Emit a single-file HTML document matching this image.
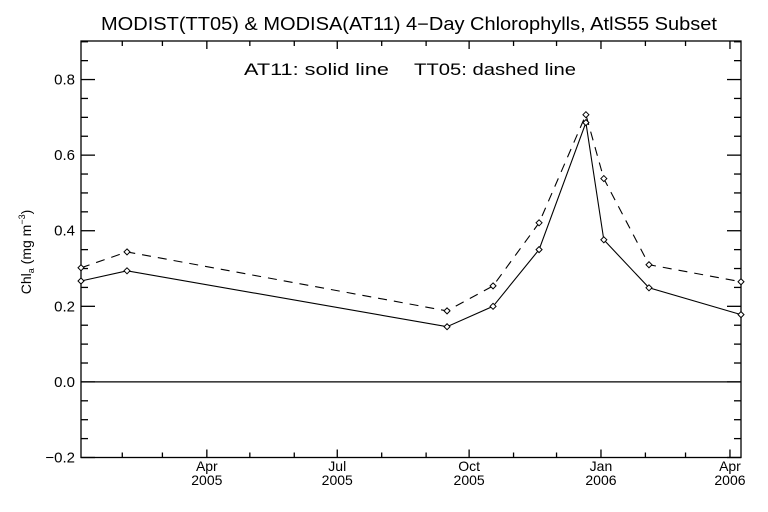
<!DOCTYPE html>
<html><head><meta charset="utf-8"><style>
html,body{margin:0;padding:0;background:#fff;}
svg{display:block;font-family:"Liberation Sans",sans-serif;}
</style></head><body>
<svg id="chart" width="768" height="512" viewBox="0 0 768 512">
<rect x="0" y="0" width="768" height="512" fill="#fff"/>
<text x="409" y="30" font-size="18" text-anchor="middle" textLength="616" lengthAdjust="spacingAndGlyphs">MODIST(TT05) &amp; MODISA(AT11) 4−Day Chlorophylls, AtlS55 Subset</text>
<text x="244" y="75" font-size="17" textLength="145" lengthAdjust="spacingAndGlyphs">AT11: solid line</text>
<text x="414" y="75" font-size="17" textLength="162" lengthAdjust="spacingAndGlyphs">TT05: dashed line</text>
<text transform="translate(31,252) rotate(-90)" font-size="14" text-anchor="middle">Chl<tspan font-size="9" dy="3">a</tspan><tspan dy="-3"> (mg m</tspan><tspan font-size="9" dy="-6">−3</tspan><tspan dy="6">)</tspan></text>
<g id="axes"></g>
<g id="series"></g>
</svg>
<script>
const dayValues = [2.2, 34.3, 257.6, 289.7, 321.8, 354.5, 367, 398.5, 462.7];
const at11Values = [0.267, 0.294, 0.146, 0.200, 0.350, 0.686, 0.376, 0.249, 0.178];
const tt05Values = [0.302, 0.344, 0.188, 0.254, 0.421, 0.707, 0.538, 0.310, 0.265];
const yTickValues = [-0.2, 0.0, 0.2, 0.4, 0.6, 0.8];
const yTickLabels = ["−0.2", "0.0", "0.2", "0.4", "0.6", "0.8"];
const xMajorDays = [90, 181, 273, 365, 455];
const xMonthLabels = ["Apr", "Jul", "Oct", "Jan", "Apr"];
const xYearLabels = ["2005", "2005", "2005", "2006", "2006"];
const xMinorDays = [31, 59, 120, 151, 212, 243, 304, 334, 396, 424];

const L = 81, R = 741, T = 41, B = 457.5;
const xMin = 2.2, xMax = 462.7, yMin = -0.2, yMax = 0.902;
const sx = d => L + (d - xMin) / (xMax - xMin) * (R - L);
const sy = v => B - (v - yMin) / (yMax - yMin) * (B - T);
const NS = "http://www.w3.org/2000/svg";
const axes = document.getElementById('axes');
const series = document.getElementById('series');
function mk(tag, attrs, parent) {
  const e = document.createElementNS(NS, tag);
  for (const k in attrs) e.setAttribute(k, attrs[k]);
  parent.appendChild(e);
  return e;
}
let el = mk('rect', {x: L, y: T, width: R - L, height: B - T, fill: 'none', stroke: '#000', 'stroke-width': 1.3}, axes);


el = mk('line', {x1: L, x2: R, y1: sy(0), y2: sy(0), stroke: '#000', 'stroke-width': 1.3}, axes);


// y ticks
for (let v = -0.2; v <= 0.9001; v += 0.05) {
  const major = Math.abs(Math.round(v * 10) / 10 - v) < 1e-6 && Math.round(v * 10) % 2 === 0;
  const len = major ? 14 : 7;
  const y = sy(v);
  el = mk('line', {x1: L, x2: L + len, y1: y, y2: y, stroke: '#000', 'stroke-width': 1.3}, axes);
  
  
  el = mk('line', {x1: R, x2: R - len, y1: y, y2: y, stroke: '#000', 'stroke-width': 1.3}, axes);
  
  
}
yTickValues.forEach((v, i) => {
  const t = mk('text', {x: 75, y: sy(v) + 5, 'font-size': 15, 'text-anchor': 'end'}, axes);
  
  
  t.textContent = yTickLabels[i];
});
// x ticks
xMajorDays.forEach((d, i) => {
  const x = sx(d);
  el = mk('line', {x1: x, x2: x, y1: B, y2: B - 8, stroke: '#000', 'stroke-width': 1.3}, axes);
  
  
  el = mk('line', {x1: x, x2: x, y1: T, y2: T + 8, stroke: '#000', 'stroke-width': 1.3}, axes);
  
  
  let t = mk('text', {x: x, y: 471, 'font-size': 14, 'text-anchor': 'middle'}, axes);
  
  
  t.textContent = xMonthLabels[i];
  t = mk('text', {x: x, y: 485, 'font-size': 14, 'text-anchor': 'middle'}, axes);
  
  
  t.textContent = xYearLabels[i];
});
xMinorDays.forEach(d => {
  const x = sx(d);
  el = mk('line', {x1: x, x2: x, y1: B, y2: B - 5, stroke: '#000', 'stroke-width': 1.3}, axes);
  
  
  el = mk('line', {x1: x, x2: x, y1: T, y2: T + 5, stroke: '#000', 'stroke-width': 1.3}, axes);
  
  
});
function drawSeries(vals, name, dash) {
  const pts = dayValues.map((d, i) => sx(d).toFixed(1) + ',' + sy(vals[i]).toFixed(1)).join(' ');
  const pl = mk('polyline', {points: pts, fill: 'none', stroke: '#000', 'stroke-width': 1.1}, series);
  if (dash) pl.setAttribute('stroke-dasharray', '9,7');
  
  
  dayValues.forEach((d, i) => {
    const x = sx(d), y = sy(vals[i]);
    const m = mk('polygon', {points: `${x},${y-3} ${x+3},${y} ${x},${y+3} ${x-3},${y}`, fill: '#fff', stroke: '#000', 'stroke-width': 1}, series);
    
    
  });
}
drawSeries(tt05Values, 'tt05', true);
drawSeries(at11Values, 'at11', false);
</script>
</body></html>
